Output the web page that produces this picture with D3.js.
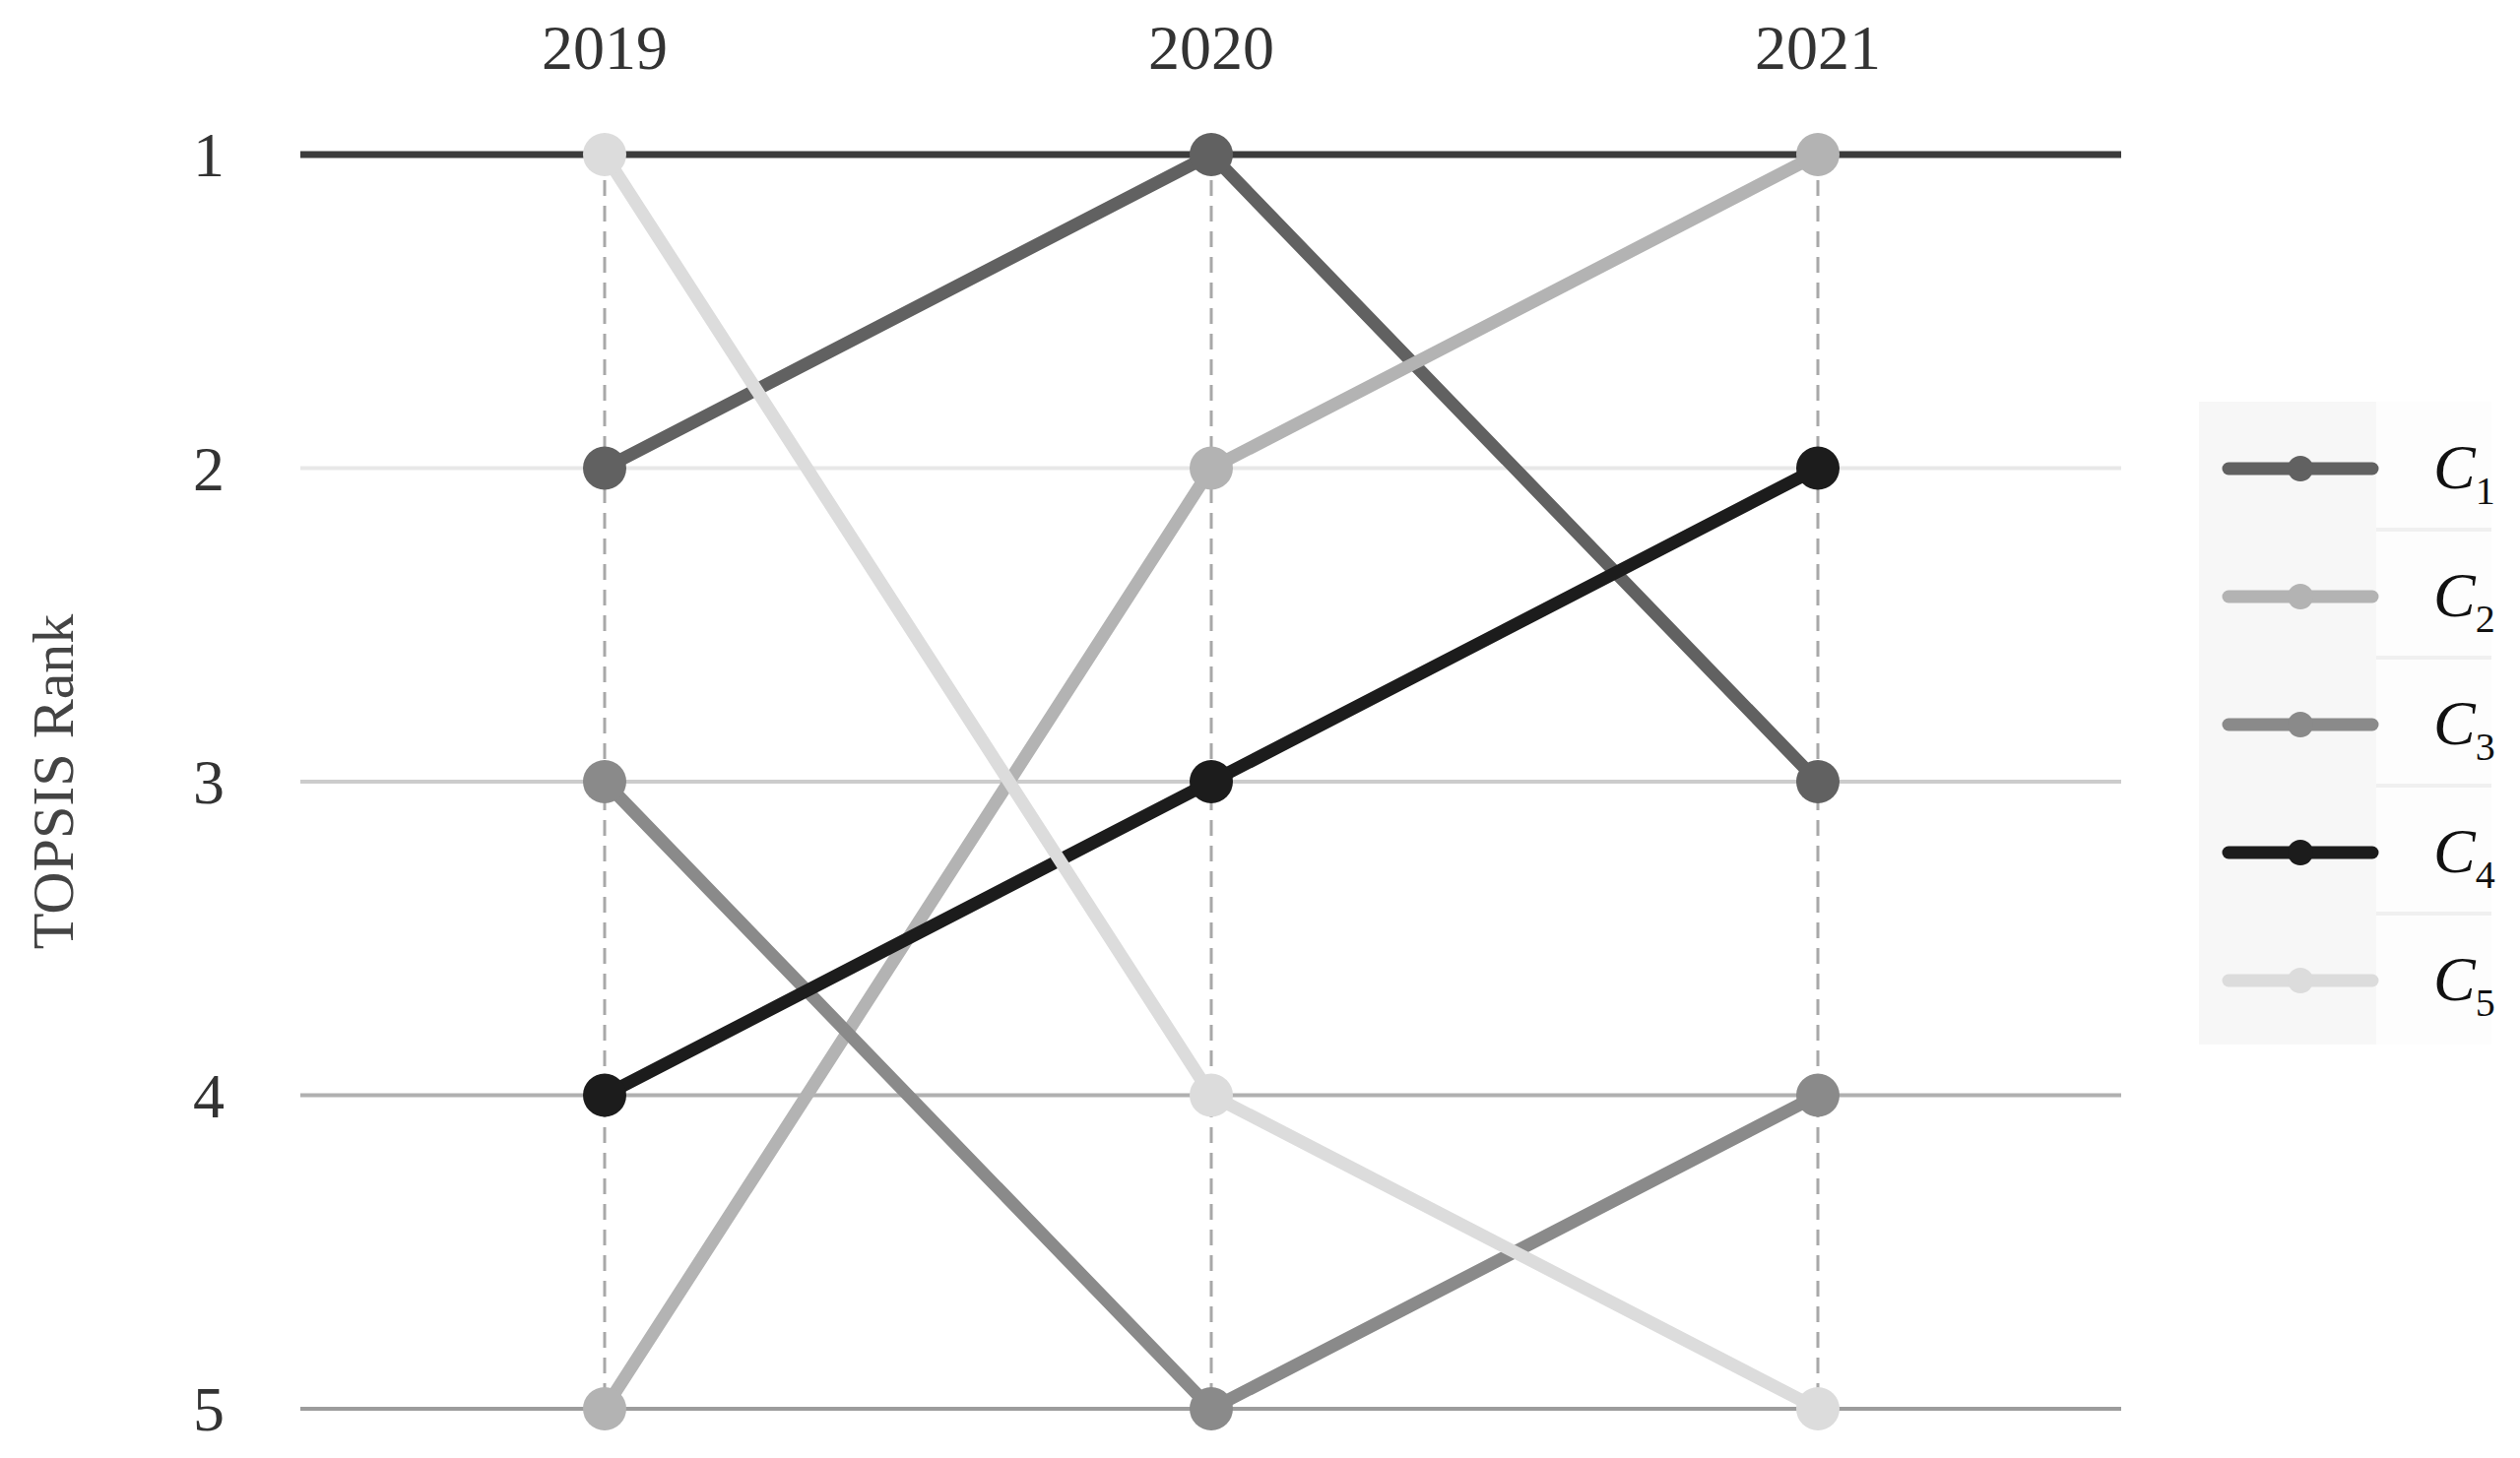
<!DOCTYPE html>
<html><head><meta charset="utf-8">
<script src="https://cdn.jsdelivr.net/npm/d3@7"></script>
<style>body{margin:0;background:#fff}svg{display:block}</style>
</head><body><div id="chart"></div>
<script>
const years = ["2019", "2020", "2021"]
const ranks = [1, 2, 3, 4, 5]
const names = ["C1", "C2", "C3", "C4", "C5"]
const c1 = [2, 1, 3]
const c2 = [5, 2, 1]
const c3 = [3, 5, 4]
const c4 = [4, 3, 2]
const c5 = [1, 4, 5]
const colors = ["#616161", "#b3b3b3", "#8a8a8a", "#1c1c1c", "#dcdcdc"]
const gridColors = ["#3c3c3c", "#e8e8e8", "#cccccc", "#b0b0b0", "#9c9c9c"]

const series = [c1, c2, c3, c4, c5].map((v, i) => ({ name: names[i], values: v, color: colors[i] }))
const W = 2559, H = 1481
const font = "'Liberation Serif', 'DejaVu Serif', serif"

const svg = d3.select("#chart").append("svg").attr("width", W).attr("height", H)
const x = d3.scalePoint().domain(years).range([614, 1846])
const y = d3.scaleLinear().domain([1, 5]).range([157, 1431])

// horizontal grid per rank
svg.selectAll("line.grid").data(ranks).enter().append("line")
  .attr("x1", 305).attr("x2", 2154)
  .attr("y1", d => y(d)).attr("y2", d => y(d))
  .attr("stroke", (d, i) => gridColors[i])
  .attr("stroke-width", (d, i) => i === 0 ? 7 : 4)

// dashed verticals
svg.selectAll("line.vert").data(years).enter().append("line")
  .attr("x1", d => x(d)).attr("x2", d => x(d))
  .attr("y1", y(1)).attr("y2", y(5))
  .attr("stroke", "#a8a8a8").attr("stroke-width", 3)
  .attr("stroke-dasharray", "16,10")

// year labels
svg.selectAll("text.year").data(years).enter().append("text")
  .attr("x", d => x(d)).attr("y", 70)
  .attr("text-anchor", "middle").attr("font-family", font)
  .attr("font-size", 64).attr("fill", "#333").text(d => d)

// rank labels
svg.selectAll("text.rank").data(ranks).enter().append("text")
  .attr("x", 212).attr("y", d => y(d) + 22)
  .attr("text-anchor", "middle").attr("font-family", font)
  .attr("font-size", 64).attr("fill", "#333").text(d => d)

svg.append("text")
  .attr("transform", "translate(74," + ((y(1) + y(5)) / 2) + ") rotate(-90)")
  .attr("text-anchor", "middle").attr("font-family", font)
  .attr("font-size", 60).attr("fill", "#444").text("TOPSIS Rank")

const line = d3.line().x((d, i) => x(years[i])).y(d => y(d))

const g = svg.selectAll("g.series").data(series).enter().append("g")
g.append("path")
  .attr("d", d => line(d.values))
  .attr("fill", "none").attr("stroke", d => d.color)
  .attr("stroke-width", 13).attr("stroke-linecap", "round")
g.selectAll("circle").data(d => d.values.map((v, i) => ({ v, i, color: d.color }))).enter()
  .append("circle")
  .attr("cx", d => x(years[d.i])).attr("cy", d => y(d.v))
  .attr("r", 22).attr("fill", d => d.color)

// legend
const lg = svg.append("g").attr("transform", "translate(2233,408)")
lg.append("rect").attr("width", 297).attr("height", 653).attr("fill", "#fdfdfd")
lg.append("rect").attr("width", 180).attr("height", 653).attr("fill", "#f7f7f7")
const item = lg.selectAll("g.item").data(series).enter().append("g")
  .attr("transform", (d, i) => "translate(0," + (i * 130) + ")")
item.filter((d, i) => i > 0).append("line")
  .attr("x1", 180).attr("x2", 297).attr("y1", 0).attr("y2", 0)
  .attr("stroke", "#f0f0f0").attr("stroke-width", 4)
item.append("line").attr("x1", 30).attr("x2", 176).attr("y1", 68).attr("y2", 68)
  .attr("stroke", d => d.color).attr("stroke-width", 13).attr("stroke-linecap", "round")
item.append("circle").attr("cx", 103).attr("cy", 68).attr("r", 13).attr("fill", d => d.color)
const lt = item.append("text").attr("x", 238).attr("y", 88)
  .attr("font-family", font).attr("font-size", 64).attr("font-style", "italic").attr("fill", "#111")
lt.append("tspan").text("C")
lt.append("tspan").attr("dy", 16).attr("font-size", 40).attr("font-style", "normal").text((d, i) => i + 1)
</script></body></html>
